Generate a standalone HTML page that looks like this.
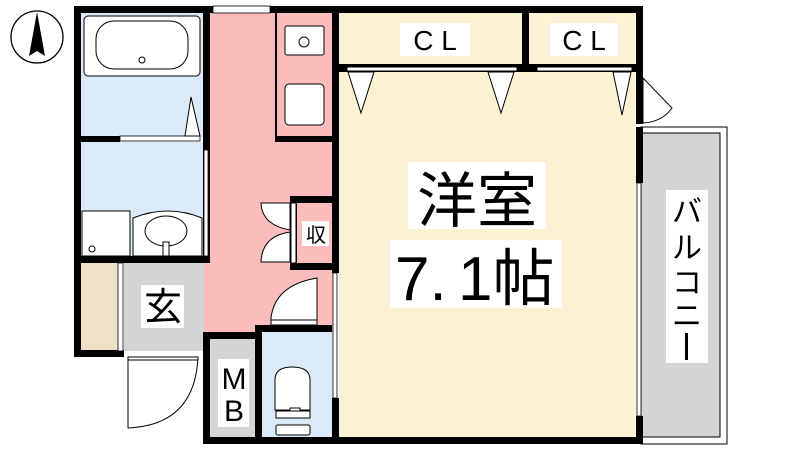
<!DOCTYPE html>
<html><head><meta charset="utf-8"><style>
html,body{margin:0;padding:0;background:#fff;width:800px;height:450px;overflow:hidden}
svg{display:block}
text{font-family:"Liberation Sans","Noto Sans CJK JP",sans-serif}
</style></head><body>
<svg width="800" height="450" viewBox="0 0 800 450" xmlns="http://www.w3.org/2000/svg">
<circle cx="37" cy="37" r="26" fill="#fff" stroke="#000" stroke-width="1.3"/>
<polygon points="37,12 29,56 37,51 45,56" fill="#000"/>
<rect x="641" y="127" width="86" height="317" fill="#fff" stroke="#000" stroke-width="1"/>
<rect x="641" y="133" width="79" height="304" fill="#d4d4d4" stroke="#000" stroke-width="1"/>
<rect x="80" y="13" width="124" height="124" fill="#dbeaf9"/>
<rect x="80" y="142" width="124" height="115" fill="#dbeaf9"/>
<rect x="80" y="263" width="38" height="88" fill="#f0e0c8"/>
<rect x="124" y="263" width="80" height="88" fill="#d4d4d4"/>
<rect x="204" y="13" width="130" height="320" fill="#fbbcbc"/>
<rect x="210" y="339" width="45" height="98" fill="#d4d4d4"/>
<rect x="262" y="332" width="72" height="105" fill="#dbeaf9"/>
<rect x="339" y="13" width="298" height="424" fill="#fdf1d3"/>
<g fill="#000">
<rect x="74" y="6" width="569" height="7"/>
<rect x="74" y="6" width="7" height="351"/>
<rect x="74" y="350" width="50" height="7"/>
<rect x="203" y="6" width="7" height="257"/>
<rect x="80" y="136" width="40" height="6"/>
<rect x="80" y="256" width="130" height="7"/>
<rect x="275" y="136" width="58" height="6"/>
<rect x="275" y="13" width="2" height="126"/>
<rect x="332" y="6" width="7" height="267"/>
<rect x="332" y="398" width="7" height="46"/>
<rect x="203" y="332" width="59" height="7"/>
<rect x="203" y="332" width="7" height="112"/>
<rect x="255" y="325" width="7" height="119"/>
<rect x="255" y="325" width="77" height="7"/>
<rect x="203" y="437" width="440" height="7"/>
<rect x="290" y="196" width="43" height="7"/>
<rect x="290" y="196" width="7" height="74"/>
<rect x="290" y="263" width="43" height="7"/>
<rect x="339" y="64" width="298" height="8"/>
<rect x="522" y="6" width="7" height="66"/>
<rect x="636" y="6" width="7" height="118"/>
<rect x="636" y="127" width="7" height="56"/>
<rect x="636" y="416" width="7" height="28"/>
</g>
<rect x="213" y="6" width="57" height="7" fill="#fff" stroke="#000" stroke-width="0.8"/>
<rect x="120" y="136" width="80" height="5" fill="#fff" stroke="#000" stroke-width="0.8"/>
<rect x="637" y="183" width="4" height="233" fill="#fff" stroke="#000" stroke-width="0.8"/>
<rect x="333" y="273" width="4" height="125" fill="#fff" stroke="#000" stroke-width="0.8"/>
<rect x="118" y="263" width="5" height="88" fill="#fff" stroke="#000" stroke-width="0.8"/>
<rect x="204" y="150" width="4" height="106" fill="#fff" stroke="#000" stroke-width="0.8"/>
<g fill="#fff" stroke="#000" stroke-width="1">
<rect x="347" y="67" width="170" height="4"/>
<rect x="537" y="67" width="95" height="4"/>
<polygon points="348,72 374,72 361,113"/>
<polygon points="488,72 514,72 501,113"/>
<polygon points="613,72 631,72 622,115"/>
<path d="M643,78 L672,108 Q662,122 643,123 Z"/>
<rect x="84" y="16" width="116" height="60" rx="4"/>
<rect x="96" y="21" width="92" height="48" rx="18"/>
<circle cx="142" cy="60" r="3"/>
<polygon points="191,97 185,136 200,136"/>
<rect x="82" y="211" width="48" height="45"/>
<circle cx="92" cy="249" r="3"/>
<path d="M133,256 V218 Q168,204 202,218 V256 Z"/>
<ellipse cx="166" cy="231" rx="21" ry="15"/>
<rect x="163" y="242" width="6" height="14"/>
<rect x="285" y="26" width="39" height="29" rx="2"/>
<circle cx="304" cy="42" r="5"/>
<rect x="285" y="84" width="39" height="41" rx="4"/>
<rect x="291" y="203" width="5" height="60"/>
<path d="M290,203 H261 Q262,225 290,230 Z"/>
<path d="M290,262 H261 Q262,236 290,232 Z"/>
<path d="M271,325 V318 Q275,285 317,278 V325 Z"/>
<rect x="271" y="320" width="46" height="5"/>
<path d="M128,357 V428 Q195,425 198,357 Z"/>
<rect x="128" y="357" width="70" height="3"/>
<path d="M275,410 V380 Q275,367 292,367 Q310,367 310,380 V410 Z"/>
<rect x="276" y="411" width="34" height="7"/>
<rect x="276" y="425" width="34" height="10" rx="2"/>
<rect x="290" y="408" width="10" height="3"/>
</g>
<g fill="#fff">
<rect x="400" y="23" width="70" height="33"/>
<rect x="550" y="23" width="68" height="33"/>
<rect x="408" y="162" width="138" height="67"/>
<rect x="390" y="240" width="172" height="68"/>
<rect x="666" y="190" width="42" height="173"/>
<rect x="141" y="285" width="43" height="43"/>
<rect x="302" y="221" width="27" height="25"/>
<rect x="218" y="359" width="31" height="68"/>
</g>
<g fill="#000">
<text x="435" y="50" font-size="28" text-anchor="middle">C L</text>
<text x="584" y="50" font-size="28" text-anchor="middle">C L</text>
<text x="477" y="222" font-size="60" text-anchor="middle">洋室</text>
<text x="395" y="300" font-size="62">7.</text>
<text x="458" y="300" font-size="62">1帖</text>
<text x="163" y="320" font-size="38" text-anchor="middle">玄</text>
<text x="316" y="242" font-size="20" text-anchor="middle">収</text>
<text x="234" y="389" font-size="30" text-anchor="middle">M</text>
<text x="234" y="421" font-size="30" text-anchor="middle">B</text>
<text x="687" y="222" font-size="30" text-anchor="middle">バ</text>
<text x="687" y="258" font-size="30" text-anchor="middle">ル</text>
<text x="687" y="293" font-size="30" text-anchor="middle">コ</text>
<text x="687" y="326" font-size="30" text-anchor="middle">ニ</text>
<rect x="685" y="333" width="3" height="27"/>
</g>
</svg>
</body></html>
